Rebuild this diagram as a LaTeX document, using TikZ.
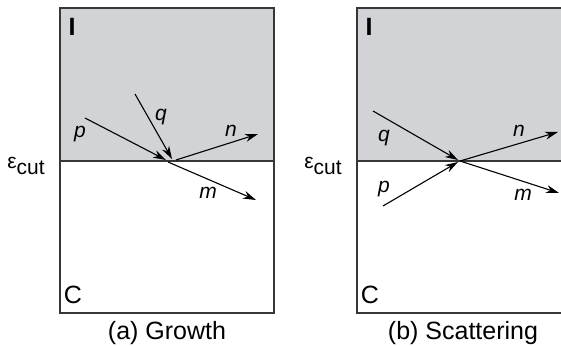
\documentclass[tikz,border=0pt]{standalone}
\usepackage{fontspec}
\setmainfont{Liberation Sans}
\usetikzlibrary{arrows.meta, calc, positioning}
\definecolor{regiongray}{RGB}{210,211,214}
\definecolor{edgegray}{RGB}{55,55,55}

\begin{document}
\begin{tikzpicture}[x=0.5pt, y=-0.5pt,
    ray/.style={-{Stealth[length=6.5pt,width=4pt]}, line width=0.55pt},
    lbl/.style={font=\itshape},
    big/.style={font=\fontsize{12.5}{14}\selectfont},
    edge/.style={draw=edgegray, line width=0.75pt}]
    \fontsize{10.5}{12}\selectfont
    \useasboundingbox (0,0) rectangle (561,346);

% (a) Growth
\begin{scope}
    \fill[regiongray] (60,8) rectangle (274,161);
    \draw[edge] (60,8) rectangle (274,313);
    \draw[edge] (60,161) -- (274,161);
    \node[big] (ia) at (72,27) {\textbf{I}};
    \node[big] (ca) at (73,295) {C};
    \node (cuta) at (26,166) {ε\raisebox{-0.6ex}{cut}};
    \node[big] (capa) at (167,333) {(a) Growth};

    \coordinate (pa0) at (85,118);
    \coordinate (pa1) at (166,160);
    \coordinate (qa0) at (135,94);
    \coordinate (qa1) at (172,159);
    \coordinate (na0) at (176,160);
    \coordinate (na1) at (258,134);
    \coordinate (ma0) at (168,162);
    \coordinate (ma1) at (256,200);

    \draw[ray] (pa0) -- (pa1);
    \draw[ray] (qa0) -- (qa1);
    \draw[ray] (na0) -- (na1);
    \draw[ray] (ma0) -- (ma1);

    \node[lbl] (pla) at (80,134) {p};
    \node[lbl] (qla) at (161,117) {q};
    \node[lbl] (nla) at (231,131) {n};
    \node[lbl] (mla) at (208,193) {m};
\end{scope}

% (b) Scattering
\begin{scope}
    \fill[regiongray] (357,8) rectangle (575,161);
    \draw[edge] (575,8) -- (357,8) -- (357,313) -- (575,313);
    \draw[edge] (357,161) -- (575,161);
    \node[big] (ib) at (369,27) {\textbf{I}};
    \node[big] (cb) at (370,295) {C};
    \node (cutb) at (323,166) {ε\raisebox{-0.6ex}{cut}};
    \node[big] (capb) at (463,333) {(b) Scattering};

    \coordinate (qb0) at (373,111);
    \coordinate (qb1) at (458,160);
    \coordinate (pb0) at (383,206);
    \coordinate (pb1) at (458,162);
    \coordinate (nb0) at (460,161);
    \coordinate (nb1) at (558,132);
    \coordinate (mb0) at (460,161);
    \coordinate (mb1) at (559,193);

    \draw[ray] (qb0) -- (qb1);
    \draw[ray] (pb0) -- (pb1);
    \draw[ray] (nb0) -- (nb1);
    \draw[ray] (mb0) -- (mb1);

    \node[lbl] (qlb) at (384,138) {q};
    \node[lbl] (plb) at (384,189) {p};
    \node[lbl] (nlb) at (519,131) {n};
    \node[lbl] (mlb) at (523,195) {m};
\end{scope}

\end{tikzpicture}
\end{document}
